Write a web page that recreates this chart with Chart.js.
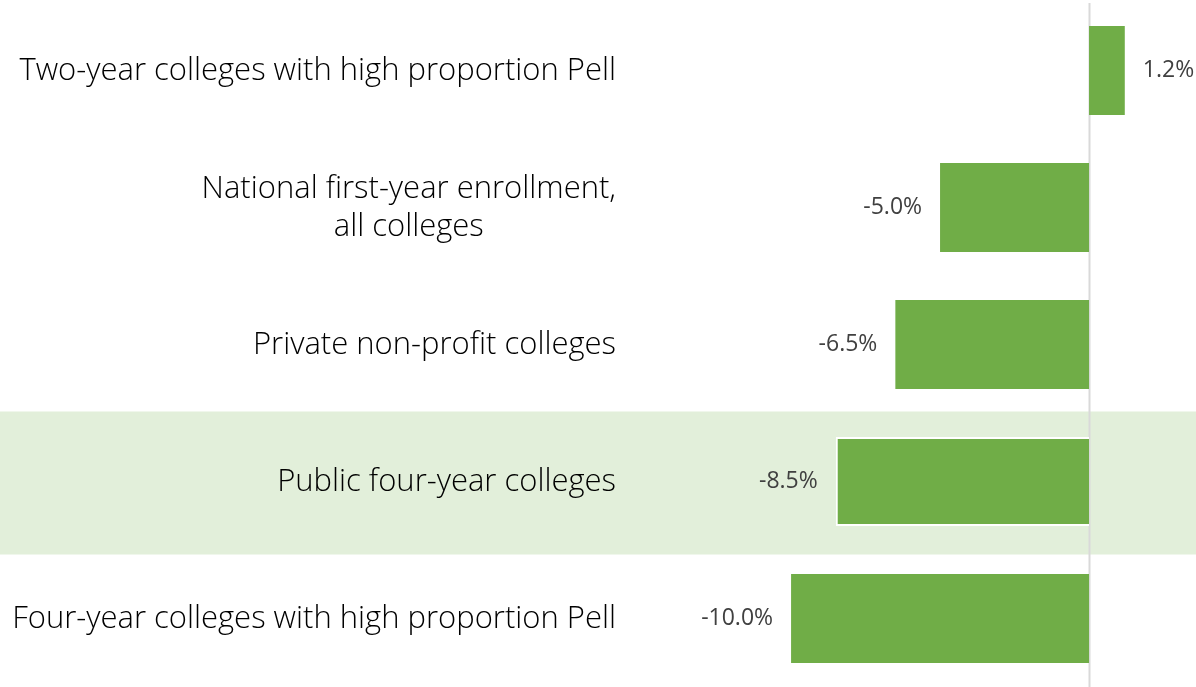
<!DOCTYPE html>
<html>
<head>
<meta charset="utf-8">
<script src="https://cdn.jsdelivr.net/npm/chart.js@4/dist/chart.umd.min.js"></script>
<style>
  html, body { margin: 0; padding: 0; background: #fff; }
  #wrap { width: 1196px; height: 687px; position: relative; }
</style>
</head>
<body>
<div id="wrap"><canvas id="enrollment-chart"></canvas></div>
<script>
// Change in first-year enrollment by college type
let categories = [
  ["Two-year colleges with high proportion Pell"],
  ["National first-year enrollment,", "all colleges"],
  ["Private non-profit colleges"],
  ["Public four-year colleges"],
  ["Four-year colleges with high proportion Pell"]
];
let changeValues = [1.2, -5.0, -6.5, -8.5, -10.0];
let highlightIndex = 3;

let labelFont = '300 31px "Open Sans", sans-serif';
let valueFont = '400 23px "Open Sans", sans-serif';

// light green band behind the highlighted row + zero line
let bandPlugin = {
  id: 'band',
  beforeDatasetsDraw(chart) {
    let ctx = chart.ctx;
    let y = chart.scales.y;
    let x = chart.scales.x;
    let cy = y.getPixelForValue(highlightIndex);
    ctx.save();
    ctx.fillStyle = '#e2efda';
    ctx.fillRect(0, cy - 70, chart.width, 143);
    let zx = Math.round(x.getPixelForValue(0)) + 0.5;
    ctx.strokeStyle = '#d9d9d9';
    ctx.lineWidth = 2;
    ctx.beginPath();
    ctx.moveTo(zx, 3);
    ctx.lineTo(zx, chart.height);
    ctx.stroke();
    ctx.restore();
  }
};

// category labels: block right aligned, lines centred within the block
let categoryLabelPlugin = {
  id: 'categoryLabels',
  afterDraw(chart) {
    let ctx = chart.ctx;
    let y = chart.scales.y;
    let rightEdge = 616;
    let lineHeight = 38;
    ctx.save();
    ctx.font = labelFont;
    ctx.fillStyle = '#000';
    ctx.textAlign = 'center';
    ctx.textBaseline = 'middle';
    categories.forEach((lines, i) => {
      let maxW = Math.max(...lines.map(l => ctx.measureText(l).width));
      let cx = rightEdge - maxW / 2;
      let cy = y.getPixelForValue(i) + 1;
      let start = cy - (lines.length - 1) * lineHeight / 2;
      lines.forEach((l, j) => ctx.fillText(l, cx, start + j * lineHeight));
    });
    ctx.restore();
  }
};

// value labels just outside the bar ends
let valueLabelPlugin = {
  id: 'valueLabels',
  afterDatasetsDraw(chart) {
    let ctx = chart.ctx;
    let meta = chart.getDatasetMeta(0);
    ctx.save();
    ctx.font = valueFont;
    ctx.fillStyle = '#404040';
    ctx.textBaseline = 'middle';
    meta.data.forEach((bar, i) => {
      let v = changeValues[i];
      let text = v.toFixed(1) + '%';
      if (v < 0) {
        ctx.textAlign = 'right';
        ctx.fillText(text, bar.x - 18, bar.y);
      } else {
        ctx.textAlign = 'left';
        ctx.fillText(text, bar.x + 18, bar.y);
      }
    });
    ctx.restore();
  }
};

let chart = new Chart(document.getElementById('enrollment-chart').getContext('2d'), {
  type: 'bar',
  data: {
    labels: categories,
    datasets: [{
      data: changeValues,
      backgroundColor: '#70ad47',
      borderColor: '#ffffff',
      borderWidth: changeValues.map((v, i) => i === highlightIndex ? 2 : 0),
      borderSkipped: 'start',
      categoryPercentage: 1,
      barPercentage: 0.65
    }]
  },
  options: {
    indexAxis: 'y',
    responsive: true,
    maintainAspectRatio: false,
    animation: false,
    layout: { padding: { top: 2, bottom: 0, left: 0, right: 0 } },
    plugins: {
      legend: { display: false },
      tooltip: { enabled: false }
    },
    scales: {
      x: {
        display: false,
        min: -15.07,
        max: 3.59
      },
      y: {
        grid: { display: false, drawTicks: false },
        border: { display: false },
        ticks: { display: false },
        afterFit(scale) { scale.width = 640; }
      }
    }
  },
  plugins: [bandPlugin, categoryLabelPlugin, valueLabelPlugin]
});
</script>
</body>
</html>
